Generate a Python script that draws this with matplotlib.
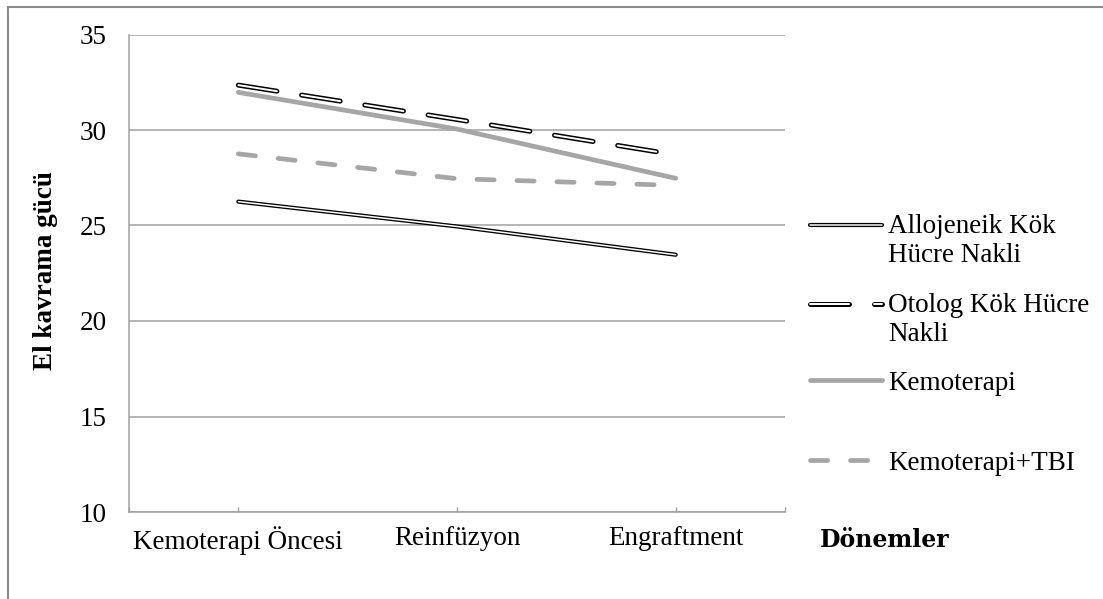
import matplotlib
matplotlib.use('Agg')
import matplotlib.pyplot as plt
from matplotlib.lines import Line2D
from matplotlib.legend_handler import HandlerTuple

# Data
categories = ['Kemoterapi Öncesi', 'Reinfüzyon', 'Engraftment']
allojeneik = [26.25, 24.95, 23.47]
otolog = [32.35, 30.55, 28.7]
kemoterapi = [31.97, 30.05, 27.47]
kemoterapi_tbi = [28.75, 27.45, 27.1]
y_ticks = [10, 15, 20, 25, 30, 35]
series_labels = ['Allojeneik Kök\nHücre Nakli', 'Otolog Kök Hücre\nNakli',
                 'Kemoterapi', 'Kemoterapi+TBI']

W, H = 1103, 599
grey = '#a0a0a0'
light = '#a6a6a6'

plt.rcParams['font.family'] = ['Liberation Serif', 'DejaVu Serif']
plt.rcParams['lines.scale_dashes'] = False

fig = plt.figure(figsize=(W / 100, H / 100), dpi=100)
ax = fig.add_axes([129 / W, 1 - 512 / H, (785 - 129) / W, (512 - 34.5) / H])

x = list(range(len(categories)))

# Allojeneik: double line (black outline, white core)
a1, = ax.plot(x, allojeneik, color='black', lw=3.0, solid_capstyle='round', zorder=3)
a2, = ax.plot(x, allojeneik, color='white', lw=1.1, solid_capstyle='round', zorder=3)

# Otolog: dashed double line
o_dash = (0, (28.1, 18.0))
o1, = ax.plot(x, otolog, color='black', lw=3.6, linestyle=o_dash,
              dash_capstyle='round', zorder=3)
o2, = ax.plot(x, otolog, color='white', lw=1.4, linestyle=o_dash,
              dash_capstyle='round', zorder=3)

# Kemoterapi: thick grey line
k1, = ax.plot(x, kemoterapi, color=light, lw=3.4, solid_capstyle='round', zorder=3)

# Kemoterapi+TBI: thick grey dashes
t1, = ax.plot(x, kemoterapi_tbi, color=light, lw=3.4, linestyle=(0, (12.4, 16.4)),
              dash_capstyle='round', zorder=3)

ax.set_xlim(-0.5, 2.5)
ax.set_ylim(10, 35)
ax.set_yticks(y_ticks)
ax.set_xticks(x)
ax.set_xticklabels(categories)
ax.set_xticks([-0.5, 2.5], minor=True)
ax.tick_params(axis='x', which='both', direction='in', length=3.6, width=1,
               color=grey, labelsize=19.5, pad=10)
ax.tick_params(axis='y', length=0, labelsize=19.5, pad=16)
ax.yaxis.grid(True, color=grey, lw=1.1)
ax.set_axisbelow(True)
for s in ['top', 'right']:
    ax.spines[s].set_visible(False)
for s in ['left', 'bottom']:
    ax.spines[s].set_color(grey)
    ax.spines[s].set_linewidth(1.1)

ax.set_ylabel('El kavrama gücü', fontsize=19.5, fontweight='bold')
ax.yaxis.set_label_coords((58 - 129) / (785 - 129), (512 - 271) / (512 - 34.5))

fig.text(820 / W, 1 - 540 / H, 'Dönemler', fontsize=17, fontweight='bold',
         family='DejaVu Serif', ha='left', va='center')


# Legend handle raised to the first text line for two-line labels
class RaisedTuple(HandlerTuple):
    def __init__(self, dy=0, **kw):
        super().__init__(ndivide=1, **kw)
        self.dy = dy

    def create_artists(self, legend, orig_handle, xdescent, ydescent,
                       width, height, fontsize, trans):
        return super().create_artists(legend, orig_handle, xdescent,
                                      ydescent - 2 * self.dy, width, height,
                                      fontsize, trans)


handles = [(a1, a2), (o1, o2), (k1,), (t1,)]
centers = [241, 320, 383, 463]
raise_by = [11.5, 11.5, 0, 0]
for h, lab, yc, dy in zip(handles, series_labels, centers, raise_by):
    fig.legend([h], [lab], loc='center left', bbox_to_anchor=(810 / W, 1 - yc / H),
               frameon=False, fontsize=19.5, borderpad=0, borderaxespad=0,
               handlelength=2.66, handletextpad=0.22,
               handler_map={tuple: RaisedTuple(dy=dy)})

# Outer chart-area border (top and left edges visible)
fig.add_artist(Line2D([8 / W, 8 / W], [0, 1 - 7 / H], transform=fig.transFigure,
                      color='#8c8c8c', lw=1.5))
fig.add_artist(Line2D([8 / W, 1], [1 - 7 / H, 1 - 7 / H], transform=fig.transFigure,
                      color='#8c8c8c', lw=1.5))

fig.savefig('out.png', dpi=100)
